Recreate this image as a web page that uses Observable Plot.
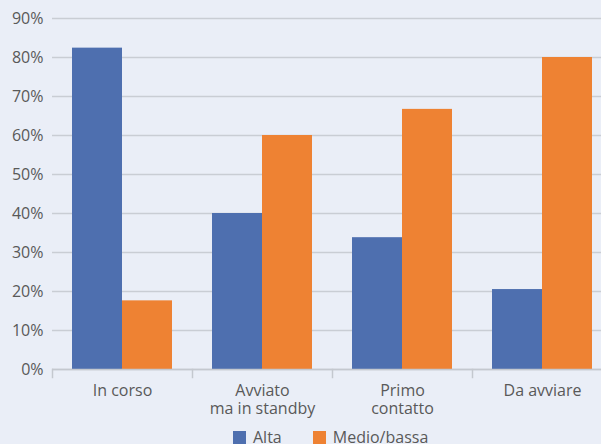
<!DOCTYPE html>
<html>
<head>
<meta charset="utf-8">
<script src="https://cdn.jsdelivr.net/npm/d3@7"></script>
<script src="https://cdn.jsdelivr.net/npm/@observablehq/plot@0.6"></script>
<style>
  html, body { margin: 0; padding: 0; background: #eaeef7; overflow: hidden; }
  #wrap { position: relative; width: 601px; height: 444px; overflow: hidden; background: #eaeef7; }
  #wrap svg { max-width: none !important; }
  #legend { position: absolute; left: 233px; top: 429px; display: flex; align-items: center;
            font-family: "Open Sans", sans-serif; font-size: 16px; color: #595959; line-height: 16px; }
  .item { display: flex; align-items: center; margin-right: 31px; }
  .sw { width: 13px; height: 13px; margin-right: 7px; display: inline-block; }
</style>
</head>
<body>
<div id="wrap"></div>
<script>
const categories = ["In corso", "Avviato\nma in standby", "Primo\ncontatto", "Da avviare"];
const series = ["Alta", "Medio/bassa"];
const alta = [82.4, 40, 33.8, 20.5];
const medio = [17.6, 60, 66.7, 80];
const yTicks = [0, 10, 20, 30, 40, 50, 60, 70, 80, 90];
const colors = ["#4e6faf", "#ee8233"];

const table = categories.flatMap((c, i) => [
  {cat: c, s: series[0], v: alta[i]},
  {cat: c, s: series[1], v: medio[i]}
]);

const chart = Plot.plot({
  width: 612,
  height: 420,
  marginTop: 18,
  marginBottom: 51,
  marginLeft: 52,
  marginRight: 0,
  style: {fontFamily: "Open Sans, sans-serif", fontSize: "16px", color: "#595959", background: "#eaeef7", overflow: "visible", maxWidth: "none"},
  fx: {domain: categories, padding: 0, axis: null},
  x: {domain: series, paddingInner: 0, paddingOuter: 0.4, axis: null},
  y: {domain: [0, 90], axis: null},
  color: {domain: series, range: colors},
  marks: [
    Plot.gridY(yTicks, {stroke: "#c9cdd4", strokeOpacity: 1, strokeWidth: 1.5}),
    Plot.barY(table, {fx: "cat", x: "s", y: "v", fill: "s"}),
    Plot.ruleY([0], {stroke: "#c4c8cf", strokeWidth: 1.5}),
    Plot.frame({anchor: "left", insetTop: 351, insetBottom: -8, stroke: "#c4c8cf", strokeWidth: 1.5}),
    Plot.axisY(yTicks, {tickSize: 0, tickPadding: 9, tickFormat: d => d + "%", label: null, fill: "#595959"}),
    Plot.axisFx({anchor: "bottom", tickSize: 0, tickPadding: 14, label: null, lineHeight: 1.125, fill: "#595959"})
  ]
});
chart.style.maxWidth = "none";

const wrap = document.getElementById("wrap");
wrap.appendChild(chart);

const legend = document.createElement("div");
legend.id = "legend";
series.forEach((s, i) => {
  const item = document.createElement("div");
  item.className = "item";
  const sw = document.createElement("span");
  sw.className = "sw";
  sw.style.background = colors[i];
  const t = document.createElement("span");
  t.textContent = s;
  item.appendChild(sw);
  item.appendChild(t);
  legend.appendChild(item);
});
wrap.appendChild(legend);
</script>
</body>
</html>
